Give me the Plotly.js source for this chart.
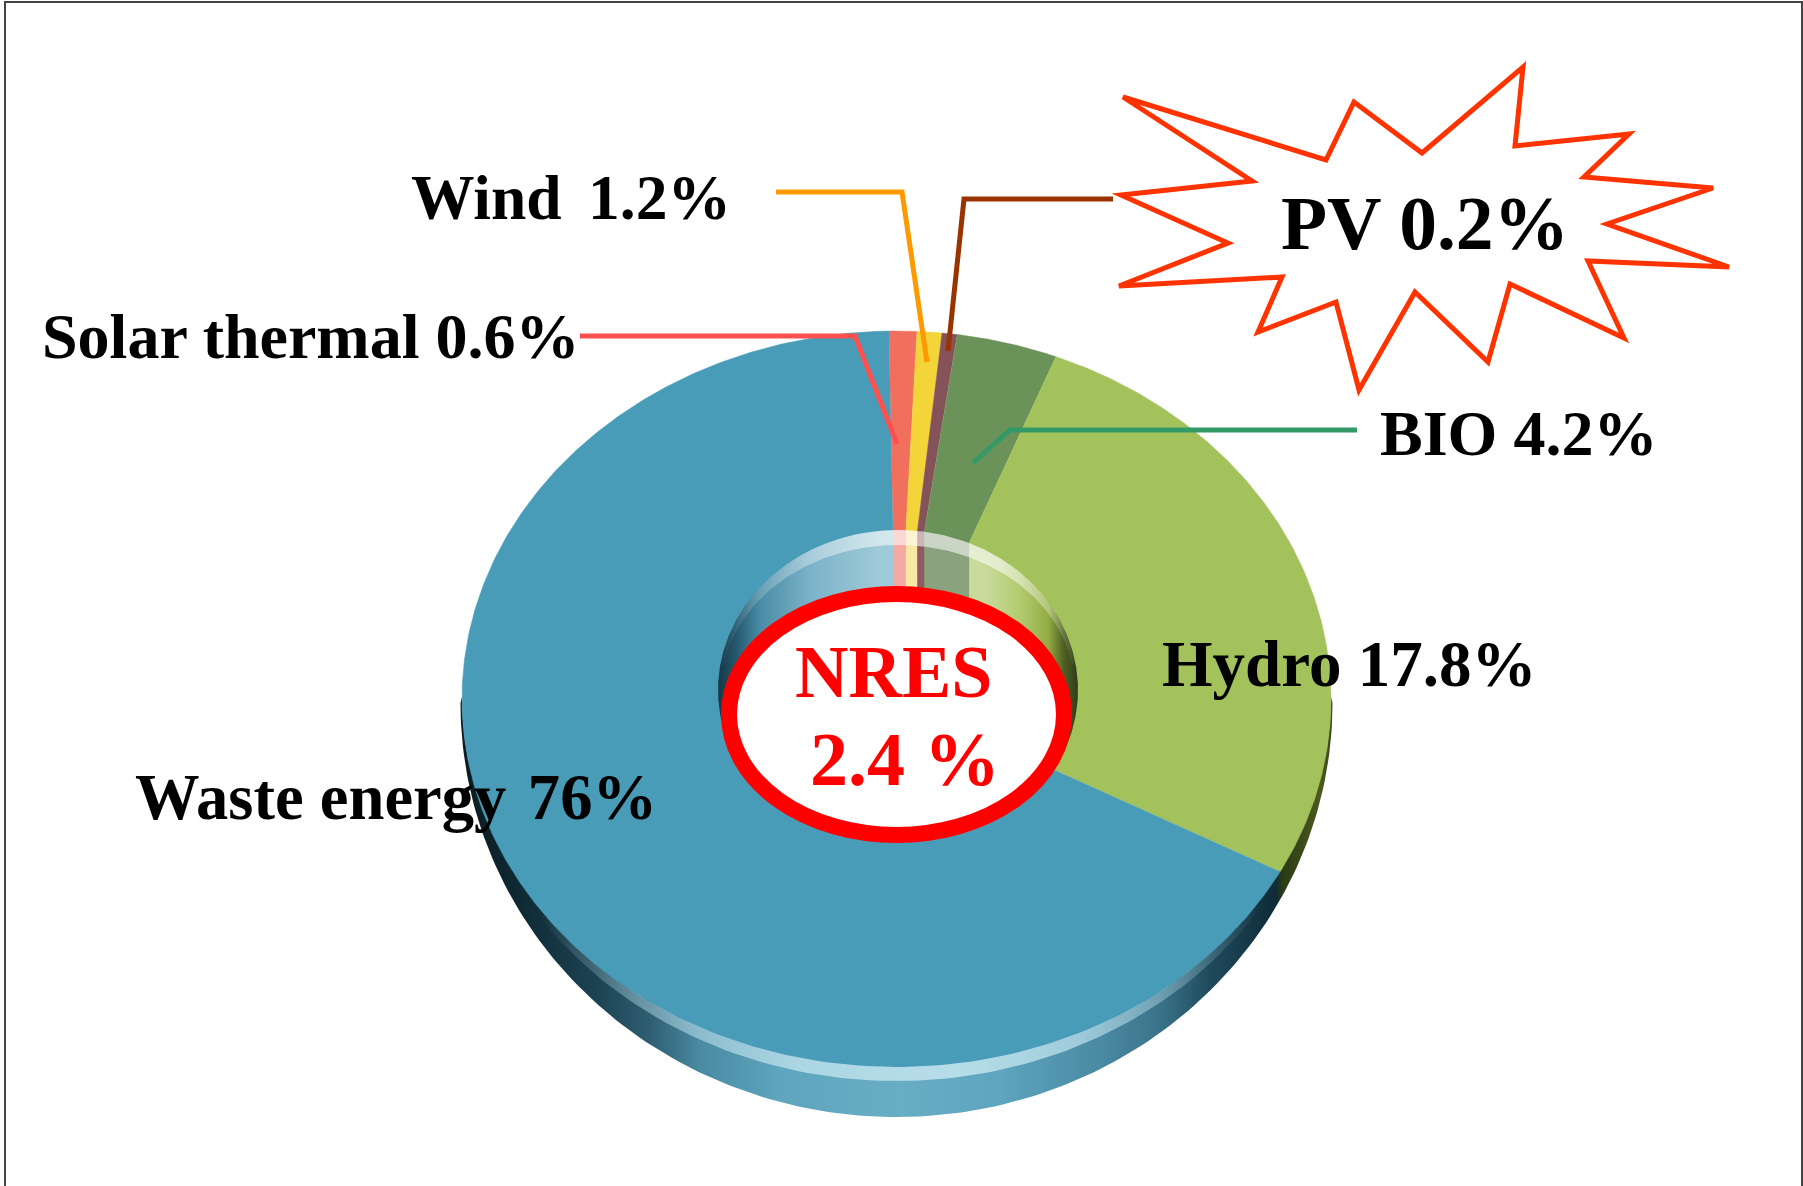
<!DOCTYPE html>
<html>
<head>
<meta charset="utf-8">
<script src="https://cdn.plot.ly/plotly-3.0.1.min.js"></script>
<style>html,body{margin:0;padding:0;background:#fff}#chart{width:1803px;height:1186px}</style>
</head>
<body>
<div id="chart"></div>
<script>
// Slices in clockwise order from the top of the ring.
const categories = ['Solar thermal', 'Wind', 'PV', 'BIO', 'Hydro', 'Waste energy'];
// Stated percentages, as printed on the labels.
const statedPercent = [0.6, 1.2, 0.2, 4.2, 17.8, 76];
// Slice shares as they are actually drawn in the picture (the artwork does not follow the stated numbers).
const drawnShare = [1.03, 0.92, 0.56, 3.75, 26.8, 66.94];
const sliceColors = ['#f16f5d', '#f3d539', '#855259', '#6b9359', '#a3c25c', '#489cb8'];
const centerTitle = 'NRES';
const centerValue = '2.4 %';

// Canvas axes: one unit is one pixel of the page.
const W = 1803, H = 1186;
const ring = {cx: 896.5, cy: 699, rx: 434.5, ry: 368, startDeg: -1};
const rim = {cx: 896.5, cy: 703, rx: 436, ry: 414};
const bevelRy = 382;
const hole = {cx: 898, cy: 690, a: 180, b: 160, clampY: 790};
const rad = d => d * Math.PI / 180;
const ellipsePt = (e, deg) => [e.cx + e.rx * Math.sin(rad(deg)), e.cy - e.ry * Math.cos(rad(deg))];

function range(a, b, step) { const o = []; for (let v = a; v < b; v += step) o.push(v); o.push(b); return o; }

const total = drawnShare.reduce((s, v) => s + v, 0);
let acc = ring.startDeg;
const sliceSpans = drawnShare.map(v => { const a = acc; acc += v / total * 360; return [a, acc]; });

const traces = [];
const noHover = {hoverinfo: 'skip', showlegend: false, mode: 'lines', fill: 'toself'};

// Outer wall below the top face, shaded across x.
(function () {
  const xs = [], ys = [];
  range(90, 270, 1).forEach(d => { const p = ellipsePt(rim, d); xs.push(p[0]); ys.push(p[1]); });
  range(90, 270, 1).reverse().forEach(d => { const p = ellipsePt(ring, d); xs.push(p[0]); ys.push(p[1] - 2); });
  const a = 460.5, b = 1332.5, n = x => (x - a) / (b - a);
  traces.push(Object.assign({}, noHover, {
    x: xs, y: ys, line: {width: 0},
    fillgradient: {type: 'horizontal', start: a, stop: b, colorscale: [
      [0, '#0c1a20'], [n(520), '#0f2a34'], [n(600), '#1d4454'], [n(650), '#2f5e72'], [n(700), '#4a8aa3'],
      [n(780), '#5ea5bd'], [n(900), '#68adc4'], [n(1000), '#5ea5bd'], [n(1100), '#4a8aa3'], [n(1160), '#3a7389'],
      [n(1210), '#1f4a5c'], [n(1276), '#0f2b38'], [n(1282), '#2a3a14'], [n(1320), '#4c5a1f'], [1, '#39451a']
    ]}
  }));
})();

// Top face slices, from the drawn shares.
categories.forEach((c, i) => {
  const xs = [ring.cx], ys = [ring.cy];
  range(sliceSpans[i][0], sliceSpans[i][1], 0.5).forEach(d => { const p = ellipsePt(ring, d); xs.push(p[0]); ys.push(p[1]); });
  traces.push({
    x: xs, y: ys, mode: 'lines', fill: 'toself', showlegend: false, name: c,
    fillcolor: sliceColors[i], line: {color: sliceColors[i], width: 0.5},
    hoverinfo: 'text', text: c + ' ' + statedPercent[i] + '%', hoveron: 'fills'
  });
});

// Light bevel between the top face and the wall.
(function () {
  const xs = [], ys = [];
  const bevel = {cx: ring.cx, cy: ring.cy, rx: ring.rx, ry: bevelRy};
  range(108, 252, 1).forEach(d => { const p = ellipsePt(ring, d); xs.push(p[0]); ys.push(p[1]); });
  range(108, 252, 1).reverse().forEach(d => { const p = ellipsePt(bevel, d); xs.push(p[0]); ys.push(p[1]); });
  const a = 540, b = 1260, n = x => (x - a) / (b - a);
  traces.push(Object.assign({}, noHover, {
    x: xs, y: ys, line: {width: 0},
    fillgradient: {type: 'horizontal', start: a, stop: b, colorscale: [
      [0, 'rgba(180,220,232,0)'], [n(640), 'rgba(180,220,232,0.45)'], [n(800), 'rgba(185,222,234,0.85)'],
      [n(950), 'rgba(185,222,234,0.98)'], [n(1080), 'rgba(185,222,234,0.75)'], [1, 'rgba(180,220,232,0)']
    ]}
  }));
})();

// Inner wall of the hole: slice edges meet the rim along the same angles, then drop straight down.
function rayToHole(deg) {
  const dx = ring.rx * Math.sin(rad(deg)), dy = -ring.ry * Math.cos(rad(deg));
  const ox = ring.cx - hole.cx, oy = ring.cy - hole.cy;
  const A = dx * dx / (hole.a * hole.a) + dy * dy / (hole.b * hole.b);
  const B = 2 * (ox * dx / (hole.a * hole.a) + oy * dy / (hole.b * hole.b));
  const C = ox * ox / (hole.a * hole.a) + oy * oy / (hole.b * hole.b) - 1;
  const t = (-B + Math.sqrt(B * B - 4 * A * C)) / (2 * A);
  return [ring.cx + t * dx, Math.min(ring.cy + t * dy, hole.clampY)];
}
const holeA = hole.cx - hole.a, holeB = hole.cx + hole.a, hn = x => (x - holeA) / (holeB - holeA);
const innerScales = [
  [[0, '#f4aaa2'], [1, '#f4aaa2']],
  [[0, '#fae7a3'], [1, '#fae7a3']],
  [[0, '#8f5a62'], [1, '#8f5a62']],
  [[0, '#8ba27f'], [1, '#8ba27f']],
  [[0, '#c8da9c'], [hn(985), '#c8da9c'], [hn(1020), '#b2cb70'], [hn(1048), '#93ad44'], [hn(1064), '#4c5f22'], [1, '#2f3c18']],
  [[0, '#173746'], [hn(735), '#24566b'], [hn(760), '#4a8ca6'], [hn(810), '#7ab3c8'], [hn(880), '#9fcad9'], [1, '#9fcad9']]
];
categories.forEach((c, i) => {
  const xs = [], ys = [];
  range(sliceSpans[i][0], sliceSpans[i][1], 0.5).forEach(d => { const p = rayToHole(d); xs.push(p[0]); ys.push(p[1]); });
  const n = xs.length;
  const closeY = y => (y > hole.cy ? y : hole.clampY);
  xs.push(xs[n - 1], xs[0]);
  ys.push(closeY(ys[n - 1]), closeY(ys[0]));
  traces.push(Object.assign({}, noHover, {
    x: xs, y: ys, line: {width: 0},
    fillgradient: {type: 'horizontal', start: holeA, stop: holeB, colorscale: innerScales[i]}
  }));
});

// Light rim at the top of the hole.
(function () {
  const xs = [], ys = [];
  const outer = {cx: hole.cx, cy: hole.cy, rx: hole.a, ry: hole.b};
  const inner = {cx: hole.cx, cy: hole.cy, rx: hole.a - 3, ry: hole.b - 15};
  range(-80, 80, 1).forEach(d => { const p = ellipsePt(outer, d); xs.push(p[0]); ys.push(p[1]); });
  range(-80, 80, 1).reverse().forEach(d => { const p = ellipsePt(inner, d); xs.push(p[0]); ys.push(p[1]); });
  traces.push(Object.assign({}, noHover, {
    x: xs, y: ys, line: {width: 0},
    fillgradient: {type: 'horizontal', start: holeA, stop: holeB, colorscale: [
      [0, 'rgba(255,255,255,0)'], [hn(745), 'rgba(255,255,255,0.12)'], [hn(810), 'rgba(255,255,255,0.35)'],
      [hn(890), 'rgba(255,255,255,0.55)'], [hn(1000), 'rgba(255,255,255,0.55)'], [hn(1050), 'rgba(255,255,255,0.3)'], [1, 'rgba(255,255,255,0)']
    ]}
  }));
})();

const poly = pts => 'M' + pts.map(p => p.join(',')).join(' L') + ' Z';
const open = pts => 'M' + pts.map(p => p.join(',')).join(' L');
const burst = [[1123,97],[1326,160],[1354,102],[1422,153],[1523,67],[1515,146],[1629,134],[1584,177],[1713,188],[1607,224],[1729,267],[1588,261],[1624,338],[1510,284],[1488,362],[1415,292],[1359,390],[1336,302],[1258,332],[1282,277],[1119,286],[1228,243],[1121,195],[1252,181]];

const lineShape = (pts, color) => ({type: 'path', xref: 'x', yref: 'y', path: open(pts), line: {color: color, width: 5}, layer: 'above'});
const shapes = [
  {type: 'path', xref: 'x', yref: 'y', path: open([[5, H], [5, 2], [1802, 2], [1802, H]]), line: {color: '#444444', width: 2}},
  lineShape([[580, 336], [855, 336], [897, 444]], '#ff5050'),
  lineShape([[776, 192], [902, 192], [927, 362]], '#ff9900'),
  lineShape([[1113, 199], [964, 199], [948, 351]], '#993300'),
  lineShape([[1357, 430], [1010, 430], [973, 463]], '#339966'),
  {type: 'path', xref: 'x', yref: 'y', path: poly(burst), fillcolor: '#ffffff', line: {color: '#ff3300', width: 5}},
  {type: 'circle', xref: 'x', yref: 'y', x0: 729, x1: 1064, y0: 594, y1: 835, fillcolor: '#ffffff', line: {color: '#ff0000', width: 16}}
];

const serif = '"Liberation Serif","Times New Roman",serif';
const note = (text, x, baseline, size, color) => ({
  text: text, x: x, y: baseline - size * 0.31, xref: 'x', yref: 'y', xanchor: 'left', yanchor: 'middle',
  showarrow: false, borderpad: 0, font: {family: serif, size: size, color: color || '#000000', weight: 700}
});
const lab = i => categories[i] + ' ' + statedPercent[i] + '%';
const annotations = [
  note('Wind\u00a0\u2006' + statedPercent[1] + '%', 410, 217, 63.5),
  note(lab(0), 41, 356, 64),
  note(lab(3), 1379, 453, 64),
  note(lab(4), 1161, 684, 65),
  note('Waste energy\u00a0\u200a' + statedPercent[5] + '%', 134, 817, 64.6),
  note(lab(2), 1280, 247, 75.5),
  note(centerTitle, 794, 695, 74, '#ff0000'),
  note(centerValue, 809, 783, 76, '#ff0000')
];

const layout = {
  width: W, height: H, margin: {l: 0, r: 0, t: 0, b: 0}, paper_bgcolor: '#ffffff', plot_bgcolor: '#ffffff',
  showlegend: false, hovermode: 'closest',
  xaxis: {range: [0, W], visible: false, fixedrange: true},
  yaxis: {range: [H, 0], visible: false, fixedrange: true},
  shapes: shapes, annotations: annotations
};

Plotly.newPlot('chart', traces, layout, {displayModeBar: false, responsive: false});
</script>
</body>
</html>
